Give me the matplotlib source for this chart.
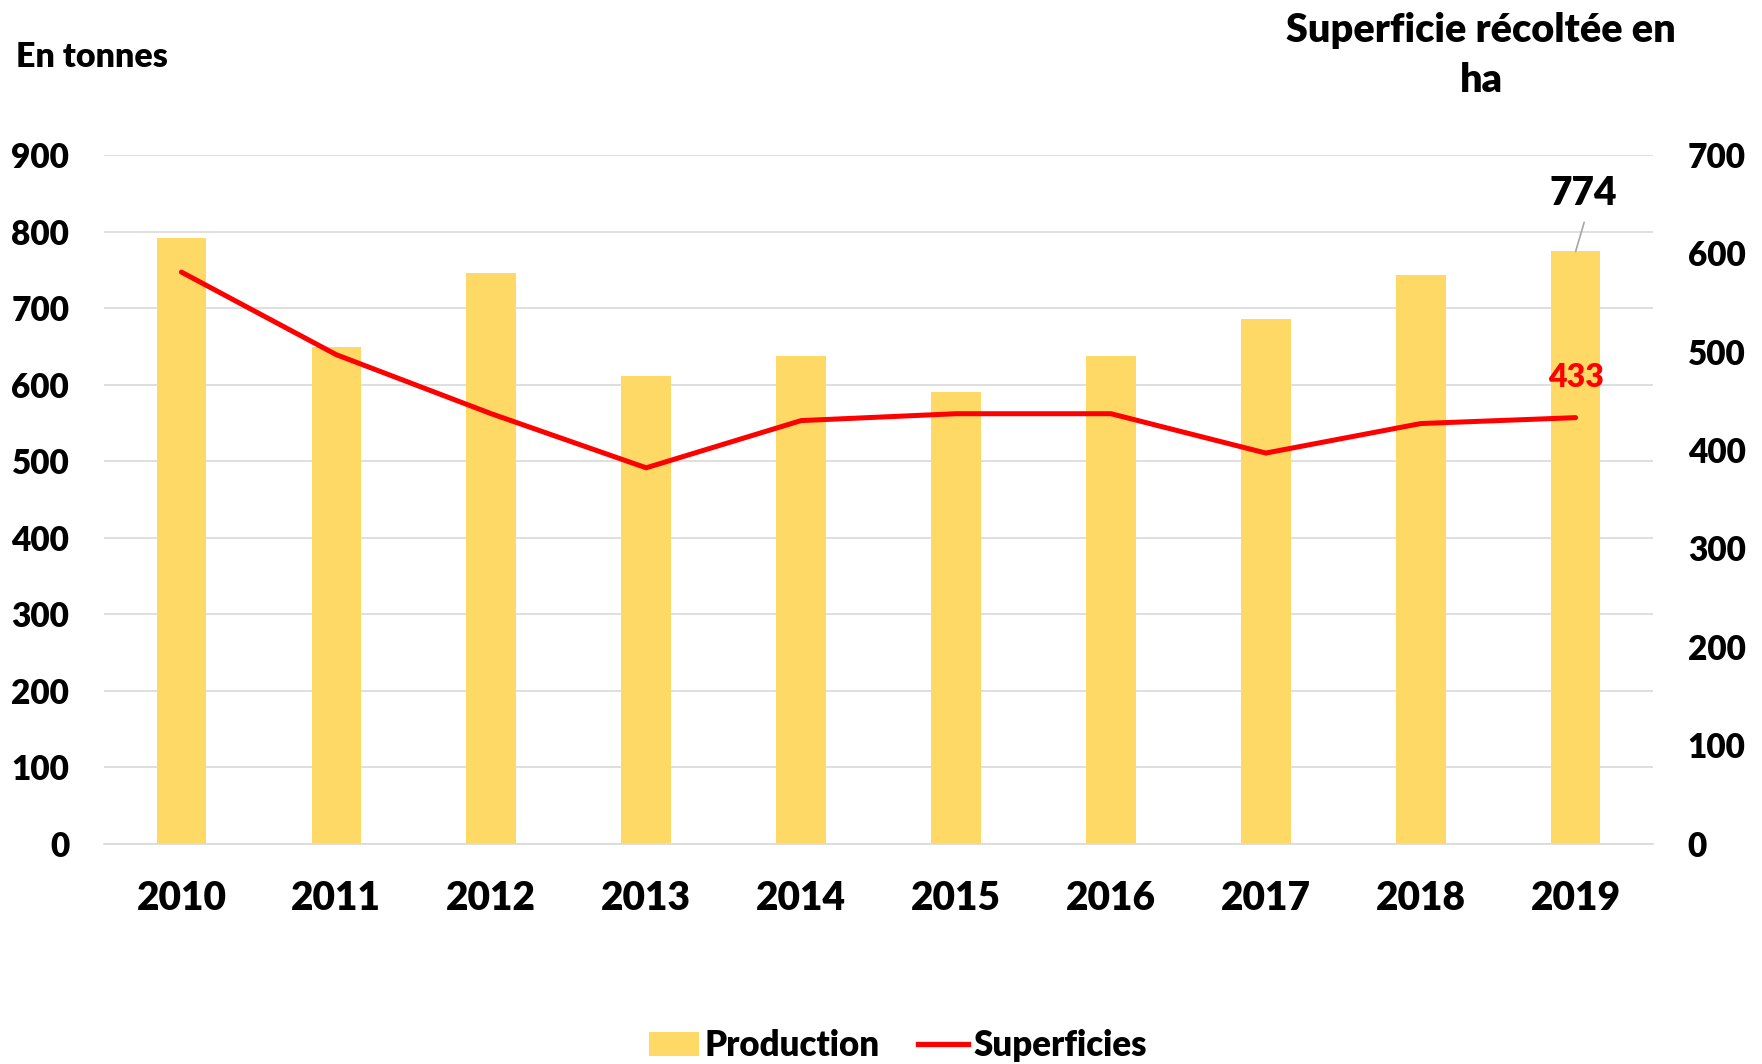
import matplotlib
matplotlib.use("Agg")
import matplotlib.pyplot as plt
from matplotlib.patches import Patch
from matplotlib.lines import Line2D

plt.rcParams["font.family"] = ["Lato", "DejaVu Sans"]
plt.rcParams["font.weight"] = "heavy"
W = "heavy"

years = ["2010", "2011", "2012", "2013", "2014", "2015", "2016", "2017", "2018", "2019"]
production = [792, 649, 746, 611, 637, 590, 637, 686, 743, 774]
superficies = [581, 497, 437, 382, 430, 437, 437, 397, 427, 433]

bar_color = "#FFD966"
line_color = "#FF0000"
grid_color = "#D9D9D9"

fig = plt.figure(figsize=(17.62, 10.64), dpi=100)
ax = fig.add_axes([0.0590, 0.2072, 0.8792, 0.6471])
x = range(len(years))

ax.bar(x, production, 0.32, color=bar_color, zorder=2)
ax.set_xlim(-0.5, len(years) - 0.5)
ax.set_ylim(0, 900)
ax.set_yticks(range(0, 901, 100))
ax.set_yticklabels([str(v) for v in range(0, 901, 100)], fontsize=24, fontweight=W)
ax.set_xticks(list(x))
ax.set_xticklabels(years, fontsize=28, fontweight=W)
ax.grid(axis="y", color=grid_color, linewidth=1.2, zorder=0)
ax.set_axisbelow(True)
for s in ["top", "left", "right"]:
    ax.spines[s].set_visible(False)
ax.spines["bottom"].set_color(grid_color)
ax.spines["bottom"].set_linewidth(1.2)
ax.tick_params(axis="y", length=0, pad=25)
ax.tick_params(axis="x", length=0, pad=26)

ax2 = ax.twinx()
ax2.plot(x, superficies, color=line_color, linewidth=3.6, solid_capstyle="round")
ax2.set_ylim(0, 700)
ax2.set_yticks(range(0, 701, 100))
ax2.set_yticklabels([str(v) for v in range(0, 701, 100)], fontsize=24, fontweight=W)
ax2.tick_params(axis="y", length=0, pad=25)
for s in ax2.spines.values():
    s.set_visible(False)

# data labels for 2019 (leader line + label)
ax.annotate("", xy=(9, production[-1]), xytext=(9.055, 812),
            arrowprops=dict(arrowstyle="-", color="#A6A6A6", lw=1.2, shrinkA=0, shrinkB=0))
ax2.text(9.05, 850 * 700 / 900, str(production[-1]), ha="center", va="center",
         fontsize=28, fontweight=W, color="black")
ax2.text(9, 474, str(superficies[-1]), ha="center", va="center",
         fontsize=23, fontweight=W, color=line_color)

fig.text(0.009, 0.946, "En tonnes", ha="left", va="center", fontsize=24.5, fontweight=W)
fig.text(0.8405, 0.948, "Superficie récoltée en\nha", ha="center", va="center",
         fontsize=28.5, fontweight=W, linespacing=1.45)

handles = [Patch(facecolor=bar_color, label="Production"),
           Line2D([0], [0], color=line_color, linewidth=3.8, label="Superficies")]
fig.legend(handles=handles, loc="center", bbox_to_anchor=(0.5095, 0.017), ncol=2,
           frameon=False, prop={"size": 25, "weight": W}, handlelength=1.45,
           handletextpad=0.15, columnspacing=1.1)

fig.savefig("out.png", dpi=100)
